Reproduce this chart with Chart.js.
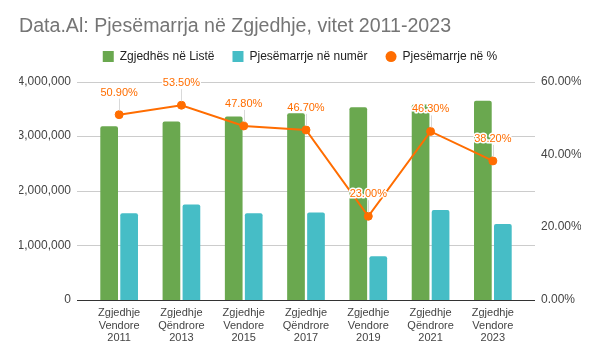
<!DOCTYPE html>
<html>
<head>
<meta charset="utf-8">
<script src="https://cdn.jsdelivr.net/npm/chart.js@4.4.0/dist/chart.umd.min.js"></script>
<style>
  html, body { margin: 0; padding: 0; background: #fff; }
  #wrap { width: 600px; height: 361px; }
</style>
</head>
<body>
<div id="wrap"><canvas id="chart"></canvas></div>
<script>
const kategorite = [
    ["Zgjedhje", "Vendore", "2011"],
    ["Zgjedhje", "Qëndrore", "2013"],
    ["Zgjedhje", "Vendore", "2015"],
    ["Zgjedhje", "Qëndrore", "2017"],
    ["Zgjedhje", "Vendore", "2019"],
    ["Zgjedhje", "Qëndrore", "2021"],
    ["Zgjedhje", "Vendore", "2023"]
];

const zgjedhesNeListe = [3180000, 3270000, 3360000, 3420000, 3530000, 3580000, 3650000];
const pjesemarrjeNumer = [1590000, 1750000, 1590000, 1600000, 800000, 1650000, 1390000];
const pjesemarrjePerqind = [50.9, 53.5, 47.8, 46.7, 23.0, 46.3, 38.2];

const fontFamily = "'Liberation Sans', Arial, sans-serif";

// vijat e rrjetës dalin pak jashtë zonës së grafikut (si në Google Sheets)
const rrjetaPlugin = {
    id: "rrjeta",
    afterInit(chart) {
        // pak më shumë hapësirë poshtë legjendës
        const fit = chart.legend.fit;
        chart.legend.fit = function () {
            fit.call(this);
            this.height += 9;
        };
    },
    beforeDatasetsDraw(chart) {
        const ctx = chart.ctx;
        const area = chart.chartArea;
        const y = chart.scales.y;
        ctx.save();
        ctx.lineWidth = 1;
        y.ticks.forEach(tick => {
            const py = Math.round(y.getPixelForValue(tick.value)) + 0.5;
            ctx.strokeStyle = tick.value === 0 ? "#333333" : "#cccccc";
            ctx.beginPath();
            ctx.moveTo(area.left - 11, py);
            ctx.lineTo(area.right + 11, py);
            ctx.stroke();
        });
        ctx.restore();
    }
};

// etiketat mbi pikat e vijës
const etiketaPlugin = {
    id: "etiketa",
    afterDatasetsDraw(chart) {
        const ctx = chart.ctx;
        const meta = chart.getDatasetMeta(2);
        ctx.save();
        ctx.font = "11px " + fontFamily;
        ctx.textAlign = "center";
        ctx.textBaseline = "middle";
        meta.data.forEach((pika, i) => {
            const tekst = pjesemarrjePerqind[i].toFixed(2) + "%";
            const y = pika.y - 22;
            ctx.strokeStyle = "#d9d9d9";
            ctx.lineWidth = 1;
            ctx.beginPath();
            ctx.moveTo(Math.round(pika.x) + 0.5, y + 6);
            ctx.lineTo(Math.round(pika.x) + 0.5, pika.y - 4);
            ctx.stroke();
            ctx.lineJoin = "round";
            ctx.lineWidth = 3;
            ctx.strokeStyle = "#ffffff";
            ctx.strokeText(tekst, pika.x, y);
            ctx.fillStyle = "#ff6d01";
            ctx.fillText(tekst, pika.x, y);
        });
        ctx.restore();
    }
};

const ctx = document.getElementById("chart");

new Chart(ctx, {
    type: "bar",
    data: {
        labels: kategorite,
        datasets: [
            {
                label: "Zgjedhës në Listë",
                data: zgjedhesNeListe,
                backgroundColor: "#6aa84f",
                borderRadius: 2,
                borderSkipped: "bottom",
                categoryPercentage: 0.642,
                barPercentage: 0.885,
                yAxisID: "y",
                order: 1
            },
            {
                label: "Pjesëmarrje në numër",
                data: pjesemarrjeNumer,
                backgroundColor: "#46bdc6",
                borderRadius: 2,
                borderSkipped: "bottom",
                categoryPercentage: 0.642,
                barPercentage: 0.885,
                yAxisID: "y",
                order: 1
            },
            {
                type: "line",
                label: "Pjesëmarrje në %",
                data: pjesemarrjePerqind,
                borderColor: "#ff6d01",
                backgroundColor: "#ff6d01",
                borderWidth: 2,
                pointRadius: 4,
                pointHoverRadius: 4,
                pointBorderWidth: 1,
                tension: 0,
                yAxisID: "y1",
                order: 0
            }
        ]
    },
    options: {
        responsive: true,
        maintainAspectRatio: false,
        animation: false,
        layout: { padding: { left: 19, right: 19, top: 0, bottom: 0 } },
        plugins: {
            title: {
                display: true,
                text: "Data.Al: Pjesëmarrja në Zgjedhje, vitet 2011-2023",
                align: "start",
                color: "#757575",
                font: { family: fontFamily, size: 19.6, weight: "normal" },
                padding: { top: 15, bottom: -6 }
            },
            legend: {
                position: "top",
                labels: {
                    boxWidth: 11,
                    boxHeight: 11,
                    padding: 18,
                    useBorderRadius: true,
                    color: "#222",
                    font: { family: fontFamily, size: 12 },
                    sort: (a, b) => a.datasetIndex - b.datasetIndex,
                    generateLabels(chart) {
                        const items = Chart.defaults.plugins.legend.labels.generateLabels(chart);
                        items.forEach(item => {
                            item.lineWidth = 0;
                            item.borderRadius = item.datasetIndex === 2 ? 5.5 : 0;
                        });
                        return items;
                    }
                }
            },
            tooltip: { enabled: false }
        },
        scales: {
            x: {
                grid: { display: false, drawTicks: false },
                border: { display: false },
                ticks: {
                    color: "#444",
                    padding: 7,
                    maxRotation: 0,
                    font: { family: fontFamily, size: 11, lineHeight: 1.12 }
                },
                afterFit(scale) { scale.height = 61; }
            },
            y: {
                position: "left",
                min: 0,
                max: 4000000,
                grid: { display: false, drawTicks: false },
                border: { display: false },
                ticks: {
                    stepSize: 1000000,
                    color: "#444",
                    padding: 17,
                    font: { family: fontFamily, size: 12 },
                    callback: v => v.toLocaleString("en-US")
                },
                afterFit(scale) { scale.width = 69; }
            },
            y1: {
                position: "right",
                min: 0,
                max: 60,
                grid: { display: false, drawTicks: false },
                border: { display: false },
                ticks: {
                    stepSize: 20,
                    color: "#444",
                    padding: 17,
                    font: { family: fontFamily, size: 12 },
                    callback: v => v.toFixed(2) + "%"
                },
                afterFit(scale) { scale.width = 57; }
            }
        }
    },
    plugins: [rrjetaPlugin, etiketaPlugin]
});
</script>
</body>
</html>
